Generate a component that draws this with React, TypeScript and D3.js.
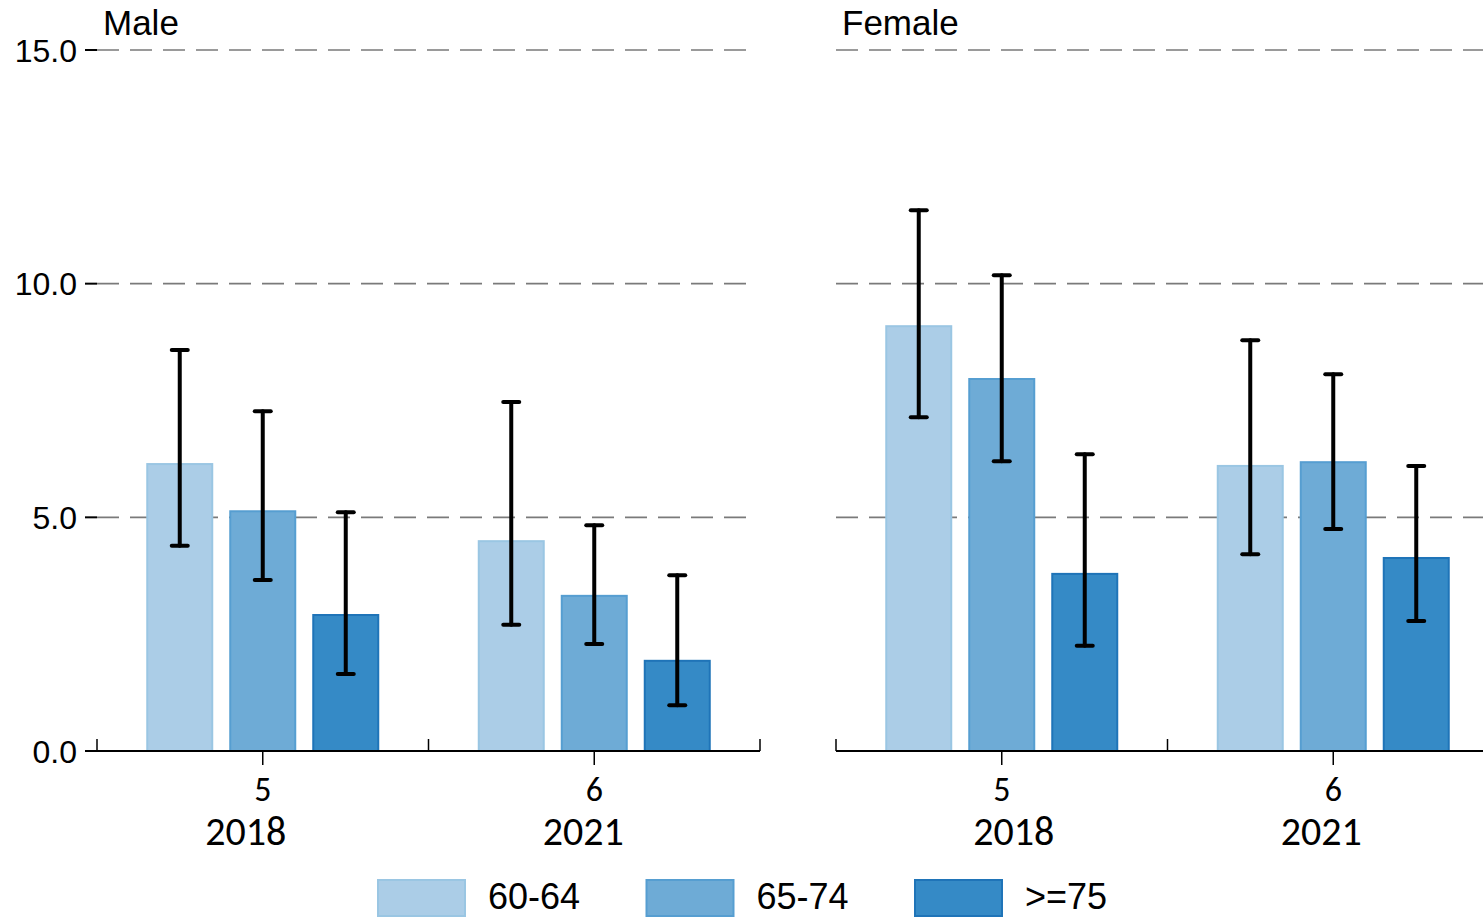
import React, { useEffect } from 'react';
import * as d3 from 'd3';

// chart data
const panels = ['Male', 'Female'];
const years = ['2018', '2021'];
const yearCodes = ['5', '6'];
const ageGroups = ['60-64', '65-74', '>=75'];
const yTicks = [0, 5, 10, 15];

// [year][ageGroup]
const maleValues = [[6.14, 5.13, 2.91], [4.49, 3.32, 1.93]];
const maleLower = [[4.39, 3.66, 1.65], [2.70, 2.29, 0.98]];
const maleUpper = [[8.58, 7.27, 5.11], [7.47, 4.83, 3.76]];
const femaleValues = [[9.09, 7.96, 3.79], [6.10, 6.18, 4.13]];
const femaleLower = [[7.14, 6.20, 2.25], [4.21, 4.75, 2.78]];
const femaleUpper = [[11.57, 10.18, 6.35], [8.79, 8.06, 6.10]];

const fills = ['#abcde7', '#6eabd6', '#358ac6'];
const strokes = ['#9ac6e3', '#569ed1', '#1f74b8'];

const width = 1483;
const height = 918;
const panelRanges: [number, number][] = [[97, 760], [836, 1499]];
// year labels sit slightly off the group centre in the original
const yearOffsets = [[-17, -11], [12, -12]];
const arialFont = "'Liberation Sans', Arial, sans-serif";
const xFont = "Carlito, Calibri, Lato, 'Open Sans', sans-serif";

const App: React.FC = () => {
  useEffect(() => {
    document.body.style.margin = '0';
  }, []);

  const yScale = d3.scaleLinear().domain([0, 15]).range([751, 50]);
  const ageScale = d3.scaleBand<string>()
    .domain(ageGroups)
    .range([-115.5, 115.5])
    .paddingInner(18 / 83);

  const panelData = [
    { values: maleValues, lower: maleLower, upper: maleUpper },
    { values: femaleValues, lower: femaleLower, upper: femaleUpper },
  ];

  return (
    <svg width={width} height={height} style={{ display: 'block' }}>
      <rect width={width} height={height} fill="#fff" />

      {/* y tick labels and ticks (left panel only) */}
      {yTicks.map(t => (
        <g key={t}>
          <text x={77} y={yScale(t)} dy="0.36em" textAnchor="end"
            fontFamily={arialFont} fontSize={32} fill="#000">
            {t.toFixed(1)}
          </text>
          <line x1={85} x2={97} y1={yScale(t)} y2={yScale(t)} stroke="#000" strokeWidth={2} />
        </g>
      ))}

      {panels.map((panel, pi) => {
        const xScale = d3.scaleBand<string>().domain(years).range(panelRanges[pi]);
        const { values, lower, upper } = panelData[pi];
        const [x0, x1] = panelRanges[pi];
        return (
          <g key={panel}>
            {/* dashed grid */}
            {yTicks.filter(t => t > 0).map(t => (
              <line key={t} x1={x0} x2={x1 - 8} y1={yScale(t)} y2={yScale(t)}
                stroke="#7a7a7a" strokeWidth={1.7} strokeDasharray="22 11" />
            ))}

            <text x={x0 + 6} y={35} fontFamily={arialFont} fontSize={35} fill="#000">{panel}</text>

            {/* bars */}
            {years.map((yr, yi) => {
              const cx = xScale(yr)! + xScale.bandwidth() / 2;
              return ageGroups.map((ag, ai) => {
                const bx = cx + ageScale(ag)!;
                return (
                  <rect key={yr + ag} x={bx} y={yScale(values[yi][ai])}
                    width={ageScale.bandwidth()} height={yScale(0) - yScale(values[yi][ai])}
                    fill={fills[ai]} stroke={strokes[ai]} strokeWidth={2} />
                );
              });
            })}

            {/* error bars */}
            {years.map((yr, yi) => {
              const cx = xScale(yr)! + xScale.bandwidth() / 2;
              return ageGroups.map((ag, ai) => {
                const mx = cx + ageScale(ag)! + ageScale.bandwidth() / 2;
                const yl = yScale(lower[yi][ai]);
                const yu = yScale(upper[yi][ai]);
                return (
                  <g key={'e' + yr + ag} stroke="#000" strokeWidth={4} strokeLinecap="round">
                    <line x1={mx} x2={mx} y1={yl} y2={yu} />
                    <line x1={mx - 8} x2={mx + 8} y1={yl} y2={yl} />
                    <line x1={mx - 8} x2={mx + 8} y1={yu} y2={yu} />
                  </g>
                );
              });
            })}

            {/* x axis */}
            <line x1={x0} x2={x1} y1={yScale(0)} y2={yScale(0)} stroke="#000" strokeWidth={2} />
            {[...years.map(y => xScale(y)!), x1].map((bx, i) => (
              <line key={'b' + i} x1={bx} x2={bx} y1={yScale(0) - 12} y2={yScale(0)}
                stroke="#000" strokeWidth={1.5} />
            ))}
            {years.map((yr, yi) => {
              const cx = xScale(yr)! + xScale.bandwidth() / 2;
              return (
                <g key={'t' + yr}>
                  <line x1={cx} x2={cx} y1={yScale(0)} y2={yScale(0) + 14} stroke="#000" strokeWidth={1.5} />
                  <text x={cx} y={801} textAnchor="middle" fontFamily={xFont} fontSize={34} fill="#000">
                    {yearCodes[yi]}
                  </text>
                  <text x={cx + yearOffsets[pi][yi]} y={845} textAnchor="middle" fontFamily={xFont} fontSize={40} fill="#000">
                    {yr}
                  </text>
                </g>
              );
            })}
          </g>
        );
      })}

      {/* legend */}
      {ageGroups.map((ag, ai) => {
        const lx = 378 + ai * 268.5;
        return (
          <g key={'l' + ag}>
            <rect x={lx} y={880} width={87} height={36} fill={fills[ai]} stroke={strokes[ai]} strokeWidth={2} />
            <text x={lx + 110} y={909} fontFamily={arialFont} fontSize={36} fill="#000">{ag}</text>
          </g>
        );
      })}
    </svg>
  );
};

export default App;
